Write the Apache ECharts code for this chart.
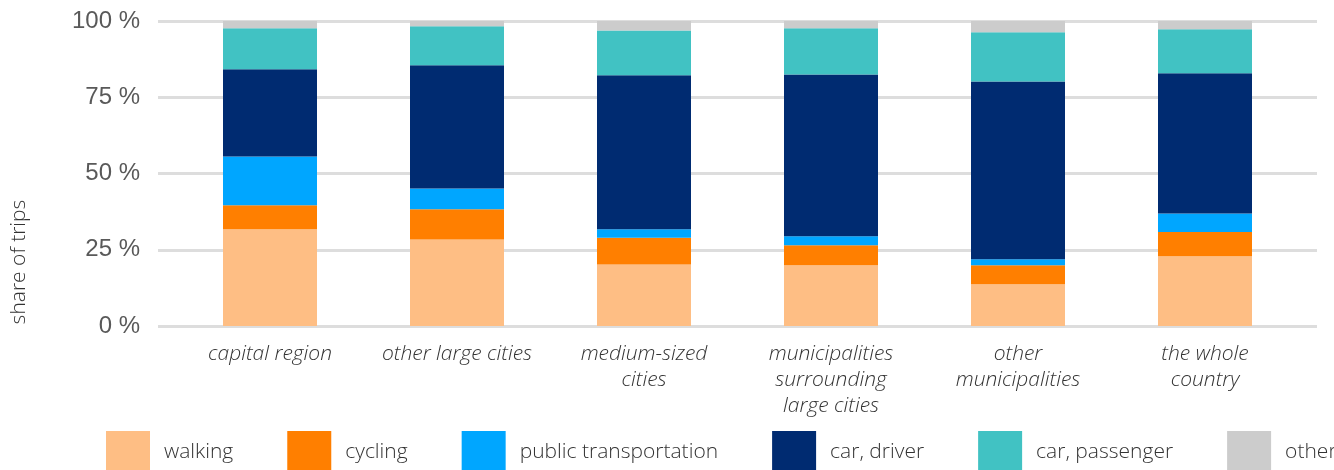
<!DOCTYPE html>
<html>
	<head>
		<meta charset="utf-8" />
		<title>share of trips</title>
		<style type="text/css">
			html, body { margin: 0; padding: 0; background: #fff; }
			#chart { width: 1334px; height: 470px; }
		</style>
	</head>
	<body>
		<div id="chart"></div>
	</body>
</html>
<script src="https://cdn.jsdelivr.net/npm/echarts@6/dist/echarts.min.js"></script>
<script>
	var regions = ['capital region', 'other large cities', 'medium-sized\ncities',
		'municipalities\nsurrounding\nlarge cities', 'other\nmunicipalities', 'the whole\ncountry'];
	var walking   = [31.7, 28.4, 20.2, 19.9, 13.7, 22.9];
	var cycling   = [7.9, 9.9, 8.7, 6.6, 6.2, 7.9];
	var publicTr  = [16.0, 6.8, 2.8, 2.9, 2.0, 6.1];
	var carDriver = [28.6, 40.4, 50.5, 53.1, 58.3, 46.0];
	var carPass   = [13.4, 12.8, 14.7, 15.1, 16.1, 14.4];
	var other     = [2.4, 1.7, 3.1, 2.4, 3.7, 2.7];

	var modes = [
		{ name: 'walking', data: walking, color: '#FEBE84' },
		{ name: 'cycling', data: cycling, color: '#FF7F00' },
		{ name: 'public transportation', data: publicTr, color: '#00A6FF' },
		{ name: 'car, driver', data: carDriver, color: '#002B71' },
		{ name: 'car, passenger', data: carPass, color: '#41C2C3' },
		{ name: 'other', data: other, color: '#CCCCCC' }
	];

	var font = '"Open Sans", "DejaVu Sans", sans-serif';

	var series = [];
	for (var i = 0; i < modes.length; i++) {
		series.push({
			name: modes[i].name,
			type: 'bar',
			stack: 'all',
			xAxisIndex: 0,
			yAxisIndex: 0,
			barWidth: 94,
			data: modes[i].data,
			itemStyle: { color: modes[i].color }
		});
	}

	var myChart = echarts.init(document.getElementById('chart'));
	var option = {
		animation: false,
		grid: [
			{ left: 176.5, right: 35.5, top: 21, bottom: 144 },
			{ left: 158, right: 17, top: 21, bottom: 144 }
		],
		legend: {
			left: 106,
			top: 431,
			width: 1500,
			padding: 0,
			itemWidth: 44,
			itemHeight: 42,
			itemGap: 54,
			icon: 'rect',
			textStyle: {
				fontFamily: font,
				fontSize: 21,
				fontWeight: 300,
				color: '#333',
				padding: [0, 0, 0, 9]
			},
			data: modes.map(function (m) { return m.name; })
		},
		xAxis: [
			{
				type: 'category',
				gridIndex: 0,
				data: regions,
				axisLine: { show: false },
				axisTick: { show: false },
				axisLabel: {
					margin: 15,
					interval: 0,
					fontFamily: font,
					fontSize: 21,
					fontWeight: 300,
					fontStyle: 'italic',
					lineHeight: 26,
					color: '#333'
				}
			},
			{ type: 'value', gridIndex: 1, show: false, min: 0, max: 1 }
		],
		yAxis: [
			{ type: 'value', gridIndex: 0, min: 0, max: 100, interval: 25, show: false },
			{
				type: 'value',
				gridIndex: 1,
				min: 0,
				max: 100,
				interval: 25,
				axisLine: { show: false },
				axisTick: { show: false },
				splitLine: { lineStyle: { color: '#DDDDDD', width: 3 } },
				axisLabel: {
					margin: 18,
					formatter: '{value} %',
					fontFamily: '"Liberation Sans", Arial, sans-serif',
					fontSize: 24,
					color: '#595959'
				}
			}
		],
		graphic: [{
			type: 'text',
			x: 19,
			y: 262,
			rotation: Math.PI / 2,
			style: {
				text: 'share of trips',
				font: '300 21px ' + font,
				fill: '#333',
				align: 'center',
				verticalAlign: 'middle'
			}
		}],
		series: series
	};
	myChart.setOption(option);
</script>
